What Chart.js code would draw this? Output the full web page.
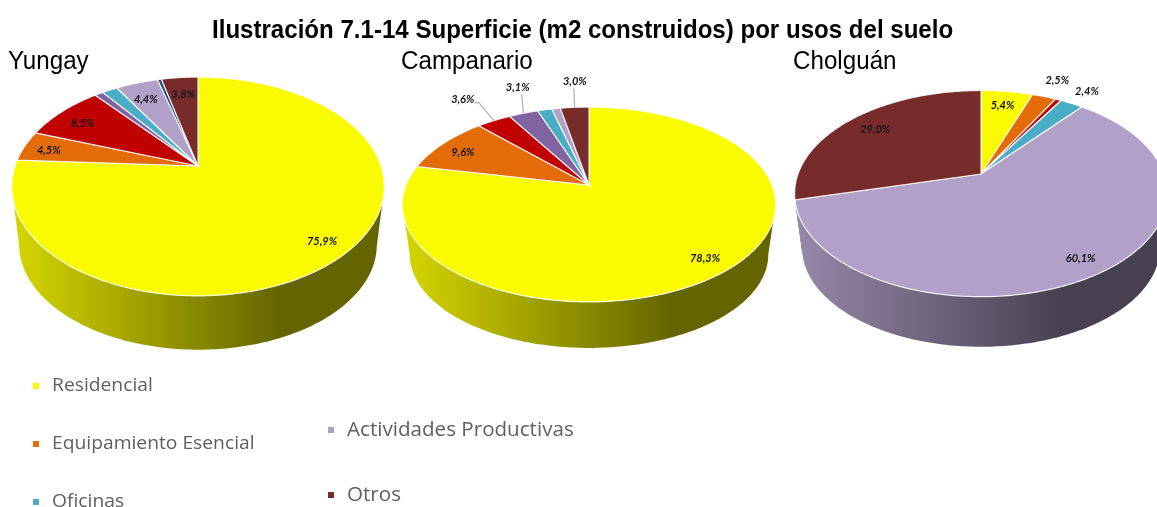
<!DOCTYPE html>
<html lang="es">
<head>
<meta charset="utf-8">
<title>Superficie por usos del suelo</title>
<script src="https://cdn.jsdelivr.net/npm/chart.js@4"></script>
<style>
  html, body { margin: 0; background: #fff; }
  #page { position: relative; width: 1157px; height: 507px; overflow: hidden; }
  #page canvas { position: absolute; }
  .txt { position: absolute; white-space: nowrap; transform-origin: left center; z-index: 2; }
  .titulo { font: bold 25px "Liberation Sans", sans-serif; color: #000; left: 212px; top: 15px; transform: scaleX(.963); }
  .lugar { font: 26px "Liberation Sans", sans-serif; color: #000; top: 45px; transform: scaleX(.93); }
  .ley { font-family: "Open Sans", sans-serif; color: #5f5f5f; filter: blur(.4px); }
  .mark { position: absolute; width: 6px; height: 6px; z-index: 2; }
</style>
</head>
<body>
<div id="page"></div>
<script>
const categorias = ['Residencial', 'Equipamiento Esencial', 'Sin rótulo (rojo)', 'Sin rótulo (violeta)', 'Oficinas', 'Actividades Productivas', 'Sin rótulo (azul)', 'Otros'];
const colores = ['#fbfb00', '#e36c09', '#c00000', '#8064a2', '#4bacc6', '#b1a0c7', '#1f497d', '#772b2b'];

const yungayValores = [75.9, 4.5, 8.5, 0.9, 1.6, 4.4, 0.4, 3.8];
const campanarioValores = [78.3, 9.6, 3.6, 3.1, 1.5, 0.9, 0, 3.0];
const cholguanValores = [5.4, 2.5, 0.6, 0, 2.4, 60.1, 0, 29.0];

const tituloTexto = 'Ilustración 7.1-14 Superficie (m2 construidos) por usos del suelo';

// radio relativo de cada rótulo (null = sin rótulo)
const yungayRotulos = [0.87, 0.87, 0.82, null, null, 0.78, null, 0.78];
const campanarioRotulos = [0.87, 0.87, 1.4, 1.46, null, null, null, 1.43];
const cholguanRotulos = [0.8, 1.25, null, null, 1.2, 0.87, null, 0.8];

const tortas = [
  { nombre: 'Yungay', valores: yungayValores, rotulos: yungayRotulos, cx: 198, cy: 166, k: 0.187, plano: 0.577, dy: 59,
    textoX: 8, ajustes: { 1: [2, 2], 2: [-2, 3], 5: [-3, 0] }, guias: {} },
  { nombre: 'Campanario', valores: campanarioValores, rotulos: campanarioRotulos, cx: 589, cy: 185, k: 0.2, plano: 0.511, dy: 50.7,
    textoX: 401, ajustes: { 1: [2, 4], 3: [18, 0], 7: [5, 0] },
    guias: { 2: [[16, 3], [12, 3]], 3: [[4, 7]], 7: [[-1, 7]] } },
  { nombre: 'Cholguán', valores: cholguanValores, rotulos: cholguanRotulos, cx: 981, cy: 174, k: 0.19, plano: 0.543, dy: 55,
    textoX: 793, ajustes: {}, guias: {} }
];

const leyenda = [
  { cat: 0, x: 52, y: 384, size: 18, ancho: 1.07, subir: 12 },
  { cat: 1, x: 52, y: 442, size: 18, ancho: 1.07, subir: 12 },
  { cat: 4, x: 52, y: 500, size: 18, ancho: 1.07, subir: 12 },
  { cat: 5, x: 347, y: 429, size: 20, ancho: 1.03, subir: 14 },
  { cat: 7, x: 347, y: 494, size: 20, ancho: 1.03, subir: 14 }
];

const radio = 183;
const lienzo = 460;
const escalaBase = 0.96;

function oscurecer(hex, f) {
  const n = parseInt(hex.slice(1), 16);
  return `rgb(${Math.round((n >> 16) * f)},${Math.round(((n >> 8) & 255) * f)},${Math.round((n & 255) * f)})`;
}

// perspectiva: circulo unitario -> elipse con el vertice desplazado
function proyectar(t, el, ang, r, esc, dy) {
  const w = 1 - t.k * r * Math.sin(ang);
  return {
    x: el.x + esc * el.outerRadius * r * Math.cos(ang) / w,
    y: el.y + dy + esc * el.outerRadius * t.plano * r * Math.sin(ang) / w
  };
}

function angulos(el) {
  const lista = [];
  const pasos = Math.max(2, Math.ceil((el.endAngle - el.startAngle) / 0.015));
  for (let i = 0; i <= pasos; i++) {
    lista.push(el.startAngle + (el.endAngle - el.startAngle) * i / pasos);
  }
  return lista;
}

const torta3d = {
  id: 'torta3d',
  beforeDatasetDraw(chart, args) {
    const ctx = chart.ctx;
    const t = chart.options.plugins.torta3d.torta;
    const ds = chart.data.datasets[0];
    const arcos = args.meta.data;
    const orden = arcos.map((el, i) => i).filter(i => ds.data[i] > 0);

    // paredes, de atras hacia adelante; todos los tramos en un solo path para evitar costuras
    const medio = i => Math.sin((arcos[i].startAngle + arcos[i].endAngle) / 2);
    [...orden].sort((a, b) => medio(a) - medio(b)).forEach(i => {
      const el = arcos[i];
      const grad = ctx.createLinearGradient(el.x - el.outerRadius, 0, el.x + el.outerRadius * 0.46, 0);
      grad.addColorStop(0, oscurecer(ds.backgroundColor[i], 0.85));
      grad.addColorStop(1, oscurecer(ds.backgroundColor[i], 0.4));
      ctx.fillStyle = grad;
      const angs = angulos(el);
      ctx.beginPath();
      for (let n = 0; n < angs.length - 1; n++) {
        if (Math.sin(angs[n]) < 0.2 && Math.sin(angs[n + 1]) < 0.2) continue;
        const a = proyectar(t, el, angs[n], 1, 1, 0);
        const b = proyectar(t, el, angs[n + 1], 1, 1, 0);
        const c = proyectar(t, el, angs[n + 1], 1, escalaBase, t.dy);
        const d = proyectar(t, el, angs[n], 1, escalaBase, t.dy);
        ctx.moveTo(a.x, a.y);
        ctx.lineTo(b.x, b.y);
        ctx.lineTo(c.x, c.y);
        ctx.lineTo(d.x, d.y);
        ctx.closePath();
      }
      ctx.fill();
    });

    // caras superiores
    orden.forEach(i => {
      const el = arcos[i];
      ctx.beginPath();
      ctx.moveTo(el.x, el.y);
      angulos(el).forEach(ang => {
        const p = proyectar(t, el, ang, 1, 1, 0);
        ctx.lineTo(p.x, p.y);
      });
      ctx.closePath();
      ctx.fillStyle = ds.backgroundColor[i];
      ctx.fill();
      ctx.strokeStyle = 'rgba(255,255,255,.85)';
      ctx.lineWidth = 1.2;
      ctx.stroke();
    });

    // rotulos y lineas guia
    ctx.font = 'italic bold 11px Lato, sans-serif';
    ctx.textAlign = 'center';
    ctx.textBaseline = 'middle';
    orden.forEach(i => {
      const r = t.rotulos[i];
      if (r === null) return;
      const el = arcos[i];
      const mid = (el.startAngle + el.endAngle) / 2;
      const p = proyectar(t, el, mid, r, 1, 0);
      const aj = t.ajustes[i] || [0, 0];
      const x = p.x + aj[0], y = p.y + aj[1];
      if (t.guias[i]) {
        const b = proyectar(t, el, mid, 1, 1, 0);
        ctx.beginPath();
        ctx.moveTo(b.x, b.y);
        t.guias[i].forEach(g => ctx.lineTo(x + g[0], y + g[1]));
        ctx.strokeStyle = '#b0b0b0';
        ctx.lineWidth = 1.2;
        ctx.stroke();
      }
      ctx.fillStyle = '#14141c';
      ctx.fillText(ds.data[i].toFixed(1).replace('.', ',') + '%', x, y);
    });
    return false;
  }
};

const page = document.getElementById('page');

function texto(clase, contenido, x, y) {
  const d = document.createElement('div');
  d.className = 'txt ' + clase;
  d.textContent = contenido;
  if (x !== null) d.style.left = x + 'px';
  if (y !== null) d.style.top = y + 'px';
  page.appendChild(d);
  return d;
}

texto('titulo', tituloTexto, null, null);

tortas.forEach(t => {
  texto('lugar', t.nombre, t.textoX, null);
  const canvas = document.createElement('canvas');
  canvas.width = lienzo;
  canvas.height = lienzo;
  canvas.style.left = (t.cx - lienzo / 2) + 'px';
  canvas.style.top = (t.cy - lienzo / 2) + 'px';
  page.appendChild(canvas);
  new Chart(canvas, {
    type: 'pie',
    data: {
      labels: categorias,
      datasets: [{ data: t.valores, backgroundColor: colores, borderWidth: 0 }]
    },
    options: {
      responsive: false,
      animation: false,
      radius: radio,
      plugins: {
        legend: { display: false },
        tooltip: { enabled: false },
        torta3d: { torta: t }
      }
    },
    plugins: [torta3d]
  });
});

leyenda.forEach(l => {
  const d = texto('ley', categorias[l.cat], l.x, l.y - l.subir);
  d.style.fontSize = l.size + 'px';
  d.style.transform = `scaleX(${l.ancho})`;
  const m = document.createElement('div');
  m.className = 'mark';
  m.style.left = (l.x - 19) + 'px';
  m.style.top = (l.y - 1 + (l.x < 100 ? 0 : -1)) + 'px';
  m.style.background = colores[l.cat];
  page.appendChild(m);
});
</script>
</body>
</html>
